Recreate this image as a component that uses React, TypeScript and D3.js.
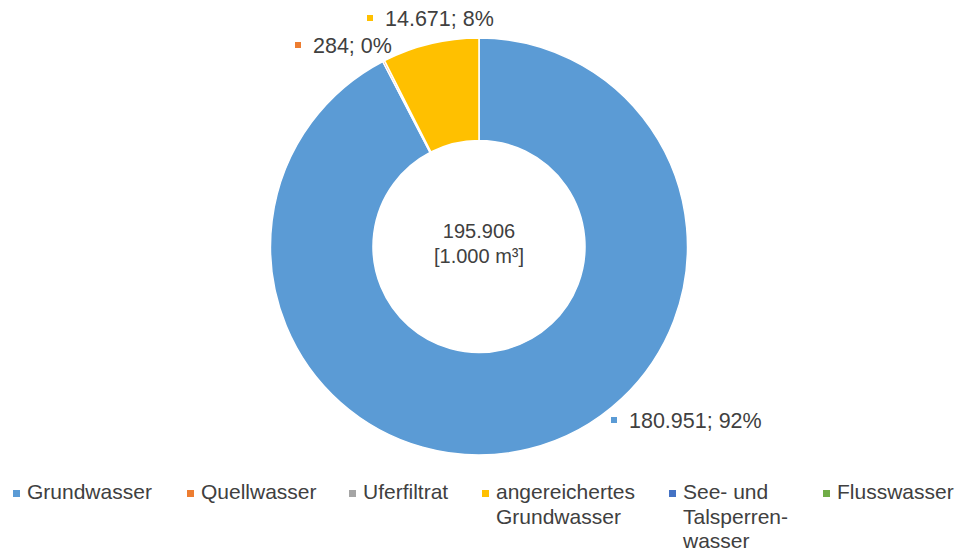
import React from "react";
import * as d3 from "d3";

const categories = [
  "Grundwasser",
  "Quellwasser",
  "Uferfiltrat",
  "angereichertes Grundwasser",
  "See- und Talsperrenwasser",
  "Flusswasser",
];
const values = [180951, 284, 0, 14671, 0, 0];
// percentages as printed in the chart labels
const percents = [92, 0, 0, 8, 0, 0];
const colors = ["#5B9BD5", "#ED7D31", "#A5A5A5", "#FFC000", "#4472C4", "#70AD47"];
const legendLines = [
  ["Grundwasser"],
  ["Quellwasser"],
  ["Uferfiltrat"],
  ["angereichertes", "Grundwasser"],
  ["See- und", "Talsperren-", "wasser"],
  ["Flusswasser"],
];
const centerLines = ["195.906", "[1.000 m³]"];

// layout (positions of labels / legend items)
const labelPos: Record<number, { x: number; y: number }> = {
  0: { x: 611, y: 428 },
  1: { x: 295, y: 53 },
  3: { x: 367, y: 26 },
};
const legendX = [13, 187, 349, 482, 669, 823];

const W = 957;
const H = 554;
const cx = 479;
const cy = 246.5;
const rOuter = 208.5;
const rInner = 106;
const font = "'Liberation Sans', Arial, sans-serif";
const textColor = "#404040";

const de = d3.formatLocale({ decimal: ",", thousands: ".", grouping: [3], currency: ["", "€"] });
const fmt = de.format(",.0f");

export default function App() {
  const pie = d3.pie<number>().sort(null).value((d) => d);
  const arcs = pie(values);
  const arc = d3.arc<d3.PieArcDatum<number>>().innerRadius(rInner).outerRadius(rOuter);

  return (
    <svg
      width={W}
      height={H}
      style={{ position: "absolute", left: 0, top: 0, background: "#fff" }}
      fontFamily={font}
    >
      <rect width={W} height={H} fill="#fff" />
      <g transform={`translate(${cx},${cy})`}>
        {arcs.map((a, i) =>
          a.value > 0 ? (
            <path key={i} d={arc(a) || ""} fill={colors[i]} stroke="#fff" strokeWidth={1.5} />
          ) : null
        )}
        {centerLines.map((t, i) => (
          <text
            key={i}
            x={0}
            y={-9 + i * 25}
            textAnchor="middle"
            fontSize={20}
            fill={textColor}
          >
            {t}
          </text>
        ))}
      </g>
      {values.map((v, i) => {
        if (v <= 0 || !labelPos[i]) return null;
        const p = labelPos[i];
        return (
          <g key={i}>
            <rect x={p.x} y={p.y - 11} width={6} height={6} fill={colors[i]} />
            <text x={p.x + 18} y={p.y} fontSize={21.5} fill={textColor}>
              {`${fmt(v)}; ${percents[i]}%`}
            </text>
          </g>
        );
      })}
      {categories.map((c, i) => (
        <g key={c}>
          <rect x={legendX[i]} y={490} width={7} height={7} fill={colors[i]} />
          {legendLines[i].map((ln, j) => (
            <text
              key={j}
              x={legendX[i] + 14}
              y={499 + j * 24.5}
              fontSize={21}
              fill={textColor}
            >
              {ln}
            </text>
          ))}
        </g>
      ))}
    </svg>
  );
}
